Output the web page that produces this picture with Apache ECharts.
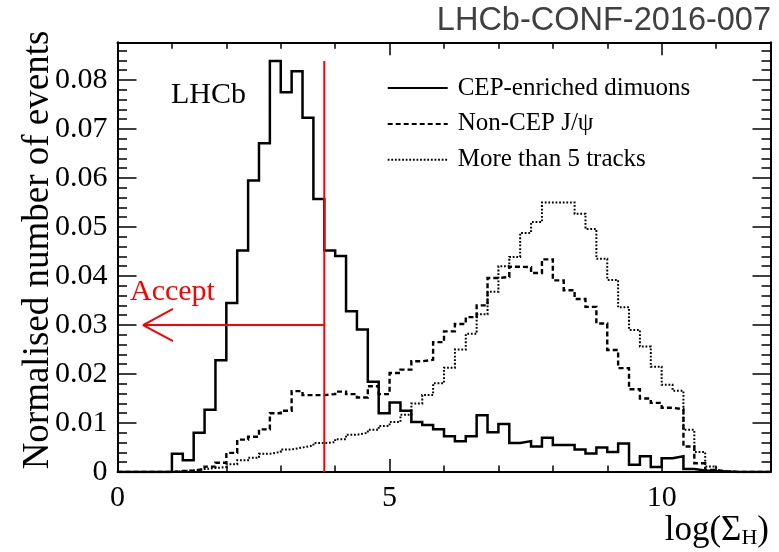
<!DOCTYPE html>
<html>
<head>
<meta charset="utf-8">
<script src="https://cdn.jsdelivr.net/npm/echarts@6/dist/echarts.min.js"></script>
<style>
  html, body { margin: 0; padding: 0; background: #ffffff; }
  #chart { width: 779px; height: 552px; }
</style>
</head>
<body>
<div id="chart"></div>
<script>
// Histogram binning: 60 bins of width 0.2 covering log(Sigma_H) = 0 .. 12
const binLow = 0;
const binWidth = 0.2;
const binCount = 60;

// Normalised bin contents, one entry per bin
const cepDimuons = [
  0, 0, 0, 0, 0,
  0.0037, 0.0024, 0.0080, 0.0127, 0.0228,
  0.0345, 0.0452, 0.0595, 0.0671, 0.0839,
  0.0775, 0.0818, 0.0723, 0.0557, 0.0452,
  0.0441, 0.0328, 0.0291, 0.0184, 0.0120,
  0.0142, 0.0125, 0.0102, 0.0096, 0.0087,
  0.0073, 0.0063, 0.0073, 0.0116, 0.0081,
  0.0098, 0.0059, 0.0063, 0.0052, 0.0070,
  0.0055, 0.0055, 0.0046, 0.0038, 0.0050,
  0.0041, 0.0058, 0.0015, 0.0032, 0.0010,
  0.0028, 0.0032, 0.0006, 0.0003, 0.0002,
  0.0001, 0, 0, 0, 0
];
const nonCepJpsi = [
  0, 0, 0, 0, 0,
  0.0002, 0.0003, 0.0006, 0.0011, 0.0019,
  0.0039, 0.0066, 0.0072, 0.0087, 0.0120,
  0.0125, 0.0165, 0.0157, 0.0157, 0.0159,
  0.0164, 0.0159, 0.0152, 0.0175, 0.0159,
  0.0202, 0.0209, 0.0226, 0.0229, 0.0265,
  0.0287, 0.0302, 0.0316, 0.0340, 0.0396,
  0.0398, 0.0419, 0.0418, 0.0406, 0.0434,
  0.0391, 0.0371, 0.0353, 0.0337, 0.0303,
  0.0249, 0.0212, 0.0169, 0.0150, 0.0141,
  0.0131, 0.0128, 0.0052, 0.0018, 0.0004,
  0.0001, 0, 0, 0, 0
];
const moreThan5Tracks = [
  0, 0, 0, 0, 0,
  0.0002, 0.0003, 0.0006, 0.0008, 0.0010,
  0.0016, 0.0024, 0.0029, 0.0037, 0.0041,
  0.0046, 0.0050, 0.0054, 0.0059, 0.0061,
  0.0067, 0.0076, 0.0080, 0.0086, 0.0094,
  0.0102, 0.0117, 0.0140, 0.0157, 0.0181,
  0.0213, 0.0250, 0.0282, 0.0322, 0.0368,
  0.0420, 0.0439, 0.0488, 0.0510, 0.0550,
  0.0550, 0.0550, 0.0527, 0.0496, 0.0435,
  0.0392, 0.0336, 0.0290, 0.0256, 0.0215,
  0.0178, 0.0166, 0.0086, 0.0041, 0.0011,
  0.0001, 0, 0, 0, 0
];

// Axis ranges and tick labels
const xRange = [0, 12];
const yRange = [0, 0.0877];
const xTickLabels = ['0', '5', '10'];
const yTickLabels = ['0', '0.01', '0.02', '0.03', '0.04', '0.05', '0.06', '0.07', '0.08'];

// Selection cut: accept events below the cut value
const cutValue = 3.8;
const cutTop = 0.0839;
const acceptLevel = 0.03;
const arrowTip = 0.47;
const arrowHeadLength = 0.55;
const arrowHeadHalfWidth = 0.0033;

// Turn bin contents into step-line points (left edge of every bin plus the last right edge)
function toSteps(values) {
  const pts = [];
  for (let i = 0; i < binCount; i++) {
    pts.push([+(binLow + i * binWidth).toFixed(4), values[i]]);
  }
  pts.push([+(binLow + binCount * binWidth).toFixed(4), values[binCount - 1]]);
  return pts;
}

const serif = '"Liberation Serif", "Times New Roman", serif';
const frameLine = { color: '#000', width: 2 };
const tickLine = { color: '#000', width: 1.5 };

function xAxisDef(pos, showLabels) {
  return {
    type: 'value', position: pos, min: xRange[0], max: xRange[1], interval: 5,
    axisLine: { show: true, onZero: false, lineStyle: frameLine },
    axisTick: { show: true, inside: true, length: 13, lineStyle: tickLine },
    minorTick: { show: true, splitNumber: 5, length: 6.5, lineStyle: tickLine },
    splitLine: { show: false }, minorSplitLine: { show: false },
    axisLabel: {
      show: showLabels, margin: 11, color: '#000', fontFamily: serif, fontSize: 30,
      showMaxLabel: false, showMinLabel: true,
      formatter: v => xTickLabels[Math.round(v / 5)] || ''
    }
  };
}
function yAxisDef(pos, showLabels, major, minor) {
  return {
    type: 'value', position: pos, min: yRange[0], max: yRange[1], interval: 0.01,
    axisLine: { show: true, onZero: false, lineStyle: frameLine },
    axisTick: { show: true, inside: true, length: major, lineStyle: tickLine },
    minorTick: { show: true, splitNumber: 5, length: minor, lineStyle: tickLine },
    splitLine: { show: false }, minorSplitLine: { show: false },
    axisLabel: {
      show: showLabels, margin: 10, color: '#000', fontFamily: serif, fontSize: 30,
      showMaxLabel: false,
      formatter: v => yTickLabels[Math.round(v * 100)] || ''
    }
  };
}

const histStyle = (dash, width) => ({ color: '#000', width: width, type: dash, cap: 'butt', join: 'miter' });

const option = {
  animation: false,
  backgroundColor: '#ffffff',
  grid: { left: 117.5, right: 8.5, top: 42.3, bottom: 80, containLabel: false, outerBoundsMode: 'none' },
  xAxis: [xAxisDef('bottom', true), xAxisDef('top', false)],
  yAxis: [yAxisDef('left', true, 19, 9.5), yAxisDef('right', false, 18, 9)],
  legend: {
    orient: 'vertical', left: 381.7, top: 68.7,
    itemWidth: 60, itemHeight: 36, itemGap: 7,
    data: ['CEP-enriched dimuons', 'Non-CEP J/ψ', 'More than 5 tracks'],
    itemStyle: { color: 'rgba(0,0,0,0)', opacity: 0, borderWidth: 0 },
    textStyle: { color: '#000', fontFamily: serif, fontSize: 25, padding: [0, 0, 0, 5] },
    selectedMode: false
  },
  graphic: [
    { type: 'text', x: 771, y: 21, silent: true,
      style: { text: 'LHCb-CONF-2016-007', fill: '#404040', font: '32.5px "Liberation Sans", Arial, sans-serif',
               align: 'right', verticalAlign: 'middle', textAlign: 'right', textVerticalAlign: 'middle' } },
    // y-axis title, rotated to read bottom-to-top
    { type: 'text', x: 38, y: 250, rotation: Math.PI / 2, silent: true,
      style: { text: 'Normalised number of events', fill: '#000', font: '37px ' + serif,
               align: 'center', verticalAlign: 'middle', textAlign: 'center', textVerticalAlign: 'middle' } },
    { type: 'text', x: 769, y: 531, silent: true,
      style: { text: 'log(Σ{sub|H})', fill: '#000', font: '35px ' + serif,
               align: 'right', verticalAlign: 'middle', textAlign: 'right', textVerticalAlign: 'middle',
               rich: { sub: { fontFamily: serif, fontSize: 22, verticalAlign: 'bottom', fill: '#000', padding: [14, 0, 0, 0] } } } },
    { type: 'text', x: 171, y: 95, silent: true,
      style: { text: 'LHCb', fill: '#000', font: '30px ' + serif,
               align: 'left', verticalAlign: 'middle', textAlign: 'left', textVerticalAlign: 'middle' } },
    { type: 'text', x: 130, y: 291.7, silent: true,
      style: { text: 'Accept', fill: '#ff0000', font: '30px ' + serif,
               align: 'left', verticalAlign: 'middle', textAlign: 'left', textVerticalAlign: 'middle' } }
  ],
  series: [
    { name: 'More than 5 tracks', type: 'line', step: 'end', symbol: 'none', silent: true, z: 2,
      lineStyle: histStyle([1.8, 1.8], 2), data: toSteps(moreThan5Tracks) },
    { name: 'Non-CEP J/ψ', type: 'line', step: 'end', symbol: 'none', silent: true, z: 3,
      lineStyle: histStyle([5, 3], 2.4), data: toSteps(nonCepJpsi) },
    { name: 'CEP-enriched dimuons', type: 'line', step: 'end', symbol: 'none', silent: true, z: 4,
      lineStyle: histStyle('solid', 2.5), data: toSteps(cepDimuons) },
    // cut line
    { type: 'line', symbol: 'none', silent: true, z: 5,
      lineStyle: { color: '#ff0000', width: 2 },
      data: [[cutValue, 0], [cutValue, cutTop]] },
    // accept arrow shaft
    { type: 'line', symbol: 'none', silent: true, z: 5,
      lineStyle: { color: '#ff0000', width: 2 },
      data: [[cutValue, acceptLevel], [arrowTip, acceptLevel]] },
    // open arrow head
    { type: 'line', symbol: 'none', silent: true, z: 5,
      lineStyle: { color: '#ff0000', width: 2 },
      data: [[arrowTip + arrowHeadLength, acceptLevel + arrowHeadHalfWidth],
             [arrowTip, acceptLevel],
             [arrowTip + arrowHeadLength, acceptLevel - arrowHeadHalfWidth]] }
  ]
};

const chart = echarts.init(document.getElementById('chart'), null, { renderer: 'canvas' });
chart.setOption(option);
</script>
</body>
</html>
